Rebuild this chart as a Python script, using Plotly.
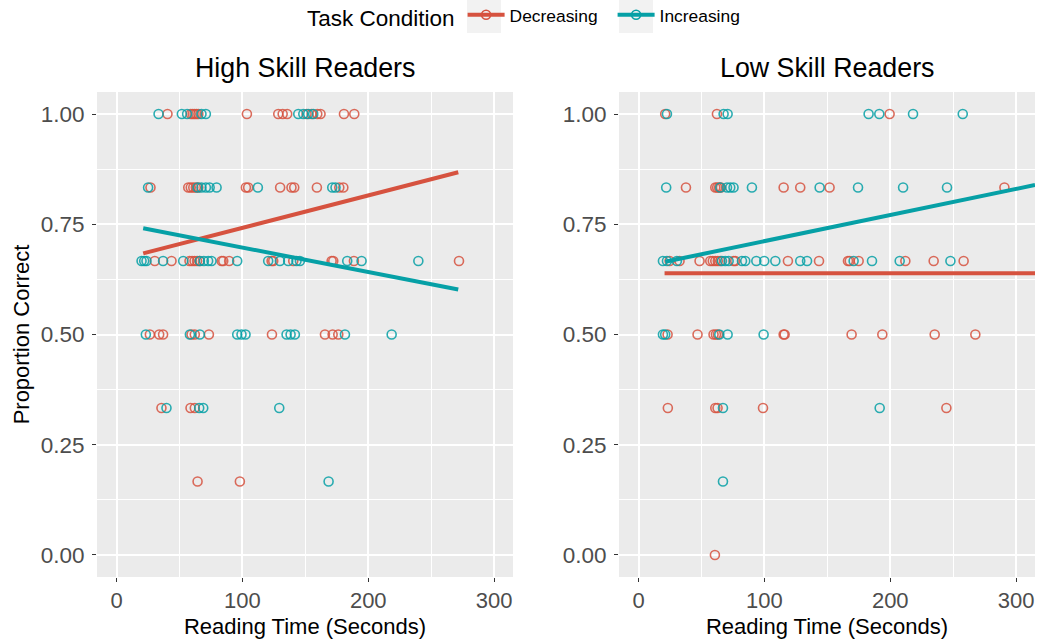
import plotly.graph_objects as go

# ---------------- data ----------------
levels = [1.0, 5/6, 2/3, 0.5, 1/3, 1/6, 0.0]

# High Skill Readers, Decreasing
hi_dec_rows = [
    [40.5, 59, 60.5, 62, 63.5, 65, 103.6, 128.5, 132, 135.6, 151, 155, 159.5, 162.1, 180.7, 188.9],
    [27, 57, 59, 61, 63, 65, 102.8, 104.6, 130, 139, 141.2, 159.2, 177, 180.2],
    [30.4, 43.7, 58, 60, 62, 64, 66, 83.5, 84.8, 89.5, 123.2, 124.5, 140.4, 170.9, 172.2, 188.6, 272.1],
    [26.5, 33.9, 37, 59.6, 62.2, 73.4, 123.5, 165.6, 171.7, 176.2],
    [35.7, 58.8, 62.2],
    [64.4, 98],
    [],
]
# High Skill Readers, Increasing
hi_inc_rows = [
    [33.4, 51.9, 56.1, 67.5, 71, 144.4, 148.4, 152.3, 156.3],
    [25.1, 64.4, 67.5, 71, 74, 79.5, 112.3, 171.4, 174],
    [19.9, 22, 23.8, 37, 53, 66.2, 69.4, 72.8, 75.5, 95.9, 120.5, 129.8, 136.4, 143, 145.7, 183.3, 194.7, 239.8],
    [23.3, 58.3, 66.2, 95.9, 99.3, 102.5, 135.1, 138.3, 141.7, 181.5, 218.6],
    [39.7, 65.7, 68.9, 129.3],
    [168.5],
    [],
]
# Low Skill Readers, Decreasing
lo_dec_rows = [
    [21.2, 62.3, 199.5],
    [37.7, 61, 62.5, 64, 65.5, 115.3, 128.5, 151.8, 290.7],
    [24.7, 32.6, 48.5, 57, 59, 61, 63, 65, 75.5, 76.9, 118.7, 143.4, 166.4, 167.8, 174.9, 212, 234.5, 258.3],
    [23.1, 46.9, 59.6, 61.5, 63.1, 115.3, 116.1, 169.3, 193.7, 235.3, 267.6],
    [23.3, 61, 62.8, 98.9, 244.6],
    [],
    [60.7],
]
# Low Skill Readers, Increasing
lo_inc_rows = [
    [22.6, 67.6, 70.8, 182.8, 191.3, 218.1, 257.6],
    [22, 64.9, 70.3, 72.9, 75.5, 90.1, 143.9, 174.4, 210.2, 245.1],
    [19.4, 22.6, 30.5, 66.3, 68.9, 71.6, 82.2, 84.8, 93.6, 99.9, 108.7, 128.5, 133.9, 170.9, 185.5, 207.5, 247.8],
    [19.4, 21.2, 64.2, 70.8, 99.4],
    [67.1, 191.6],
    [67.1],
    [],
]

# linear fits (end points)
hi_dec_fit_x, hi_dec_fit_y = [21.2, 271.5], [0.684, 0.868]
hi_inc_fit_x, hi_inc_fit_y = [21.2, 271.5], [0.741, 0.602]
lo_dec_fit_x, lo_dec_fit_y = [20.7, 315], [0.639, 0.639]
lo_inc_fit_x, lo_inc_fit_y = [21.2, 315], [0.665, 0.839]

conditions = ["Decreasing", "Increasing"]
panel_titles = ["High Skill Readers", "Low Skill Readers"]
x_ticks = [0, 100, 200, 300]
y_ticks = [0, 0.25, 0.5, 0.75, 1.0]

# ---------------- styling ----------------
RED = "#D6523F"
TEAL = "#06A0A6"
FONT = "Liberation Sans, Arial, Helvetica, sans-serif"


def flatten(rows):
    xs, ys = [], []
    for lvl, row in zip(levels, rows):
        xs += row
        ys += [lvl] * len(row)
    return xs, ys


fig = go.Figure()

panels = [
    ("x", "y", hi_dec_rows, hi_inc_rows, (hi_dec_fit_x, hi_dec_fit_y), (hi_inc_fit_x, hi_inc_fit_y)),
    ("x2", "y2", lo_dec_rows, lo_inc_rows, (lo_dec_fit_x, lo_dec_fit_y), (lo_inc_fit_x, lo_inc_fit_y)),
]
for xa, ya, dec_rows, inc_rows, dec_fit, inc_fit in panels:
    for rows, col in ((dec_rows, RED), (inc_rows, TEAL)):
        xs, ys = flatten(rows)
        fig.add_trace(go.Scatter(
            x=xs, y=ys, mode="markers", xaxis=xa, yaxis=ya, showlegend=False,
            marker=dict(symbol="circle-open", size=9, color=col, opacity=0.85,
                        line=dict(width=1.6)),
            hoverinfo="x+y"))
    for fit, col in ((dec_fit, RED), (inc_fit, TEAL)):
        fig.add_trace(go.Scatter(
            x=fit[0], y=fit[1], mode="lines", xaxis=xa, yaxis=ya, showlegend=False,
            line=dict(color=col, width=4)))

# legend-only traces
for name, col in zip(conditions, (RED, TEAL)):
    fig.add_trace(go.Scatter(
        x=[None], y=[None], mode="lines+markers", name=name,
        legendwidth=98 if name == "Decreasing" else None,
        line=dict(color=col, width=4),
        marker=dict(symbol="circle-open", size=9, color=col, line=dict(width=1.6))))

L, R, T, B = 97, 2, 92, 67
W, H = 1037, 644
pw = W - L - R
ph = H - T - B


def px_x(p):
    return (p - L) / pw


def px_y(p):
    return (H - B - p) / ph


axis_common = dict(
    range=[-15.5, 315], tickvals=x_ticks, ticks="outside", ticklen=4, tickwidth=1.2,
    tickcolor="#333333", showgrid=True, gridcolor="white", gridwidth=1.6,
    zeroline=False, showline=False,
    tickfont=dict(family=FONT, size=22, color="#4D4D4D"),
    minor=dict(dtick=50, showgrid=True, gridcolor="white", gridwidth=0.8),
    title=dict(text="Reading Time (Seconds)", font=dict(family=FONT, size=22, color="black"),
               standoff=6),
)
yaxis_common = dict(
    range=[-0.05, 1.05], tickvals=y_ticks, tickformat=".2f", ticks="outside", ticklen=4,
    tickwidth=1.2, tickcolor="#333333", showgrid=True, gridcolor="white", gridwidth=1.6,
    zeroline=False, showline=False, ticklabelstandoff=3,
    tickfont=dict(family=FONT, size=22.5, color="#4D4D4D"),
    minor=dict(dtick=0.125, showgrid=True, gridcolor="white", gridwidth=0.8),
)

fig.update_layout(
    width=W, height=H,
    margin=dict(l=L, r=R, t=T, b=B, autoexpand=False),
    paper_bgcolor="white", plot_bgcolor="#EBEBEB",
    font=dict(family=FONT, color="black"),
    xaxis=dict(domain=[0, px_x(513)], anchor="y", **axis_common),
    xaxis2=dict(domain=[px_x(619), 1], anchor="y2", **axis_common),
    yaxis=dict(domain=[0, 1], anchor="x",
               title=dict(text="Proportion Correct", font=dict(family=FONT, size=22, color="black"),
                          standoff=5),
               **yaxis_common),
    yaxis2=dict(domain=[0, 1], anchor="x2", **yaxis_common),
    legend=dict(orientation="h", x=px_x(305), xanchor="left", y=px_y(17), yanchor="middle",
                title=dict(text="Task Condition", font=dict(family=FONT, size=22.5, color="black"),
                           side="left"),
                font=dict(family=FONT, size=17.4, color="black"),
                itemwidth=37, bgcolor="rgba(0,0,0,0)"),
    showlegend=True,
)

for title, (a, b) in zip(panel_titles, ((97, 513), (619, 1035))):
    fig.add_annotation(text=title, x=px_x((a + b) / 2), y=px_y(68), xref="paper", yref="paper",
                       showarrow=False, xanchor="center", yanchor="middle",
                       font=dict(family=FONT, size=26.8, color="black"))

# gray legend key backgrounds
for a, b in ((467, 501), (619, 653)):
    fig.add_shape(type="rect", xref="paper", yref="paper", x0=px_x(a), x1=px_x(b),
                  y0=px_y(33), y1=px_y(0), fillcolor="#F2F2F2", line=dict(width=0), layer="below")

fig.write_html("out.html", config={"displayModeBar": False},
               post_script="document.body.style.margin='0';document.body.style.overflow='hidden';")
